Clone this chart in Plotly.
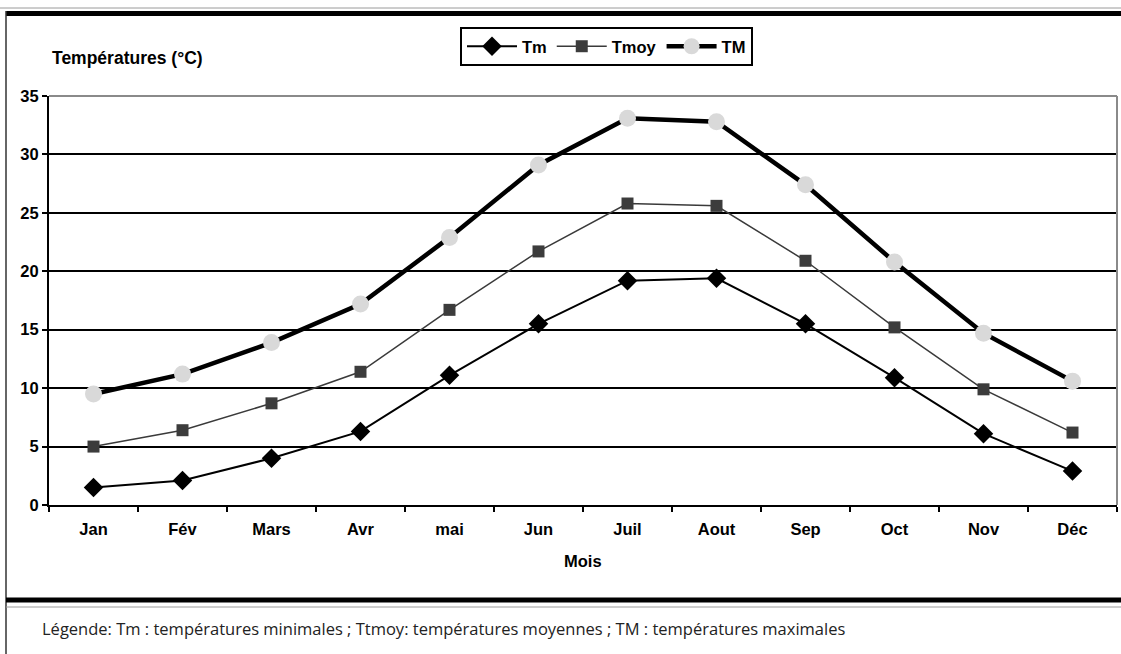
import plotly.graph_objects as go

months = ["Jan", "Fév", "Mars", "Avr", "mai", "Jun", "Juil", "Aout", "Sep", "Oct", "Nov", "Déc"]
tm = [1.5, 2.1, 4.0, 6.3, 11.1, 15.5, 19.2, 19.4, 15.5, 10.9, 6.1, 2.9]
tmoy = [5.0, 6.4, 8.7, 11.4, 16.7, 21.7, 25.8, 25.6, 20.9, 15.2, 9.9, 6.2]
tmax = [9.5, 11.2, 13.9, 17.2, 22.9, 29.1, 33.1, 32.8, 27.4, 20.8, 14.7, 10.6]

W, H = 1121, 654
L, R, T, B = 49, 1117, 96, 505
def px(x):
    return (x - L) / (R - L)
def py(y):
    return (B - y) / (B - T)

fig = go.Figure()
fig.add_trace(go.Scatter(
    x=months, y=tm, name="Tm", mode="lines+markers",
    line=dict(color="black", width=2),
    marker=dict(symbol="diamond", size=15, color="black"),
))
fig.add_trace(go.Scatter(
    x=months, y=tmoy, name="Tmoy", mode="lines+markers",
    line=dict(color="#3a3a3a", width=1.5),
    marker=dict(symbol="square", size=12, color="#3c3c3c"),
))
fig.add_trace(go.Scatter(
    x=months, y=tmax, name="TM", mode="lines+markers",
    line=dict(color="black", width=4.5),
    marker=dict(symbol="circle", size=17, color="#d9d9d9"),
))

bold = dict(family="Liberation Sans, Arial", size=16.5, color="black", weight="bold")

fig.update_layout(
    width=W, height=H,
    margin=dict(l=L, r=W - R, t=T, b=H - B),
    paper_bgcolor="white", plot_bgcolor="white",
    showlegend=True,
    legend=dict(
        orientation="h", x=px(460), y=py(27), xanchor="left", yanchor="top",
        bordercolor="black", borderwidth=2, bgcolor="white",
        font=bold, itemwidth=50, tracegroupgap=0,
    ),
    xaxis=dict(
        type="category", range=[-0.5, len(months) - 0.5],
        showgrid=False, showline=True, linecolor="black", linewidth=2,
        ticks="outside", tickson="boundaries", ticklen=5, tickwidth=2, tickcolor="black",
        tickfont=bold, zeroline=False, ticklabelstandoff=8,
    ),
    yaxis=dict(
        range=[0, 35], tickvals=[0, 5, 10, 15, 20, 25, 30, 35],
        showgrid=True, gridcolor="black", gridwidth=1.5,
        showline=True, linecolor="black", linewidth=2,
        ticks="outside", ticklen=5, tickwidth=2, tickcolor="black",
        tickfont=bold, zeroline=False,
    ),
)

# plot-area frame (top/right in grey)
fig.add_shape(type="line", xref="paper", yref="paper", x0=0, x1=1, y0=1, y1=1,
              line=dict(color="#8a8a8a", width=2))
fig.add_shape(type="line", xref="paper", yref="paper", x0=1, x1=1, y0=0, y1=1,
              line=dict(color="#8a8a8a", width=2))

# outer figure borders
big_left, big_right = px(0), px(W)
fig.add_shape(type="line", xref="paper", yref="paper", x0=big_left, x1=big_right,
              y0=py(8), y1=py(8), line=dict(color="#9a9a9a", width=1))
fig.add_shape(type="line", xref="paper", yref="paper", x0=px(6), x1=big_right,
              y0=py(13.5), y1=py(13.5), line=dict(color="black", width=5))
fig.add_shape(type="line", xref="paper", yref="paper", x0=px(6), x1=px(6),
              y0=py(654), y1=py(11), line=dict(color="#333333", width=1.5))
fig.add_shape(type="line", xref="paper", yref="paper", x0=px(6), x1=big_right,
              y0=py(600), y1=py(600), line=dict(color="black", width=5))
fig.add_shape(type="line", xref="paper", yref="paper", x0=px(6), x1=big_right,
              y0=py(607), y1=py(607), line=dict(color="#9a9a9a", width=1))

fig.add_annotation(text="Températures (°C)", xref="paper", yref="paper",
                   x=px(50), y=py(58), xanchor="left", yanchor="middle",
                   showarrow=False, font=dict(family="Liberation Sans, Arial", size=17.5,
                                              color="black", weight="bold"))
fig.add_annotation(text="Mois", xref="paper", yref="paper",
                   x=px(583), y=py(561), xanchor="center", yanchor="middle",
                   showarrow=False, font=bold)
fig.add_annotation(text="Légende: Tm : températures minimales ; Ttmoy: températures moyennes ; TM : températures maximales",
                   xref="paper", yref="paper", x=px(40), y=py(628),
                   xanchor="left", yanchor="middle", showarrow=False,
                   font=dict(family="Open Sans, Lato", size=16.5, color="#222222"))

fig.write_html("out.html", config={"displayModeBar": False},
               post_script="document.body.style.margin='0';document.body.style.overflow='hidden';")
